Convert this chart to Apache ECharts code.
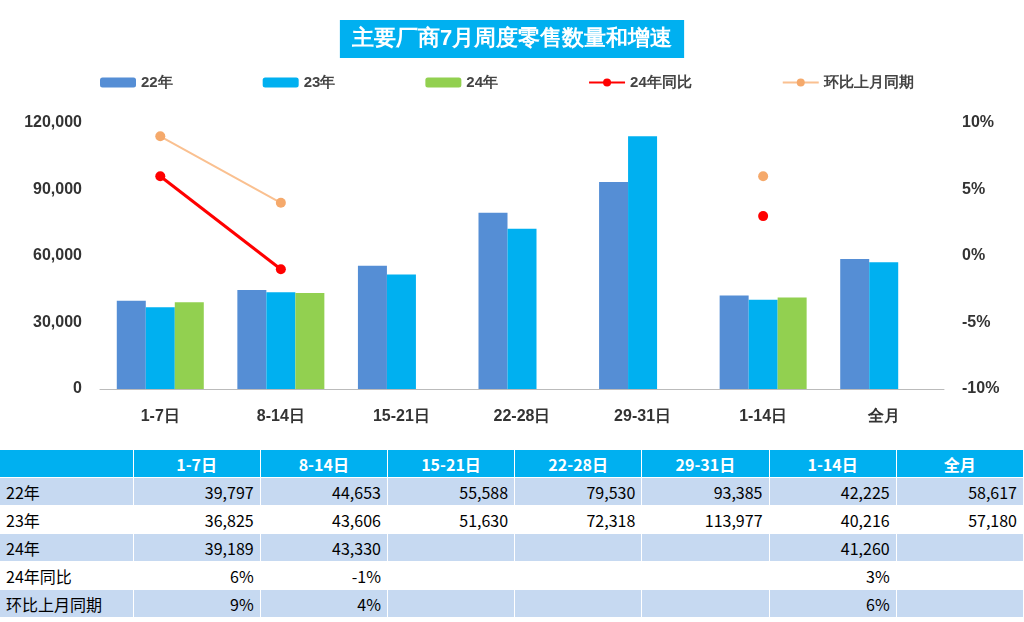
<!DOCTYPE html>
<html>
<head>
<meta charset="utf-8">
<script src="https://cdn.jsdelivr.net/npm/echarts@6/dist/echarts.min.js"></script>
<style>
body{margin:0;background:#fff;font-family:"Noto Sans CJK SC",sans-serif;}
#chart{width:1024px;height:450px;}
table{border-collapse:collapse;width:1024px;table-layout:fixed;font-size:16px;}
td{height:27px;padding:0 6px;text-align:right;border-right:1px solid #fff;border-bottom:1px solid #fff;white-space:nowrap;}
td:first-child{text-align:left;}
tr.h td{background:#00B0F0;color:#fff;font-weight:bold;text-align:center;}
tr.b td{background:#C6D9F1;}
</style>
</head>
<body>
<div id="chart"></div>
<table id="tbl"></table>
<script>
var categories = ['1-7日', '8-14日', '15-21日', '22-28日', '29-31日', '1-14日', '全月'];
var s22 = [39797, 44653, 55588, 79530, 93385, 42225, 58617];
var s23 = [36825, 43606, 51630, 72318, 113977, 40216, 57180];
var s24 = [39189, 43330, null, null, null, 41260, null];
var yoy24 = [6, -1, null, null, null, 3, null];
var mom = [9, 4, null, null, null, 6, null];

var chart = echarts.init(document.getElementById('chart'));
var lbl = {fontWeight: 'bold', fontSize: 16, color: '#333'};
chart.setOption({
  title: {
    text: '主要厂商7月周度零售数量和增速', left: 'center', top: 20,
    backgroundColor: '#00B0F0', padding: [8, 12],
    textStyle: {color: '#fff', fontSize: 22, fontWeight: 'bold'}
  },
  legend: {
    top: 70, left: 95, itemGap: 90, itemWidth: 36, itemHeight: 10,
    textStyle: {fontWeight: 'bold', fontSize: 15, color: '#444'},
    data: ['22年', '23年', '24年', '24年同比', '环比上月同期']
  },
  grid: {left: 100, right: 80, top: 123, bottom: 61},
  xAxis: {
    type: 'category', data: categories,
    axisTick: {show: false}, axisLine: {lineStyle: {color: '#bbb'}},
    axisLabel: Object.assign({margin: 20}, lbl)
  },
  yAxis: [
    {type: 'value', min: 0, max: 120000, interval: 30000, splitLine: {show: false},
     axisLabel: Object.assign({margin: 18, formatter: function (v) { return v.toLocaleString('en-US'); }}, lbl)},
    {type: 'value', min: -10, max: 10, interval: 5, splitLine: {show: false},
     axisLabel: Object.assign({margin: 18, formatter: '{value}%'}, lbl)}
  ],
  series: [
    {name: '22年', type: 'bar', data: s22, barWidth: 29, barGap: '0%', itemStyle: {color: '#558ED5'}},
    {name: '23年', type: 'bar', data: s23, barWidth: 29, itemStyle: {color: '#00B0F0'}},
    {name: '24年', type: 'bar', data: s24, barWidth: 29, itemStyle: {color: '#92D050'}},
    {name: '24年同比', type: 'line', yAxisIndex: 1, data: yoy24, symbol: 'circle', symbolSize: 10,
     lineStyle: {color: '#FF0000', width: 3}, itemStyle: {color: '#FF0000'}},
    {name: '环比上月同期', type: 'line', yAxisIndex: 1, data: mom, symbol: 'circle', symbolSize: 10,
     lineStyle: {color: '#FAC090', width: 2}, itemStyle: {color: '#F5A96B'}}
  ]
});

function fmt(v) { return v == null ? '' : v.toLocaleString('en-US'); }
function pct(v) { return v == null ? '' : v + '%'; }
var rows = [['', categories, function (v) { return v; }], ['22年', s22, fmt], ['23年', s23, fmt],
  ['24年', s24, fmt], ['24年同比', yoy24, pct], ['环比上月同期', mom, pct]];
var html = '<colgroup><col style="width:133px">' + categories.map(function () { return '<col>'; }).join('') + '</colgroup>';
rows.forEach(function (r, i) {
  var cls = i === 0 ? 'h' : (i % 2 === 1 ? 'b' : '');
  html += '<tr class="' + cls + '"><td>' + r[0] + '</td>' + r[1].map(function (v) { return '<td>' + r[2](v) + '</td>'; }).join('') + '</tr>';
});
document.getElementById('tbl').innerHTML = html;
</script>
</body>
</html>
